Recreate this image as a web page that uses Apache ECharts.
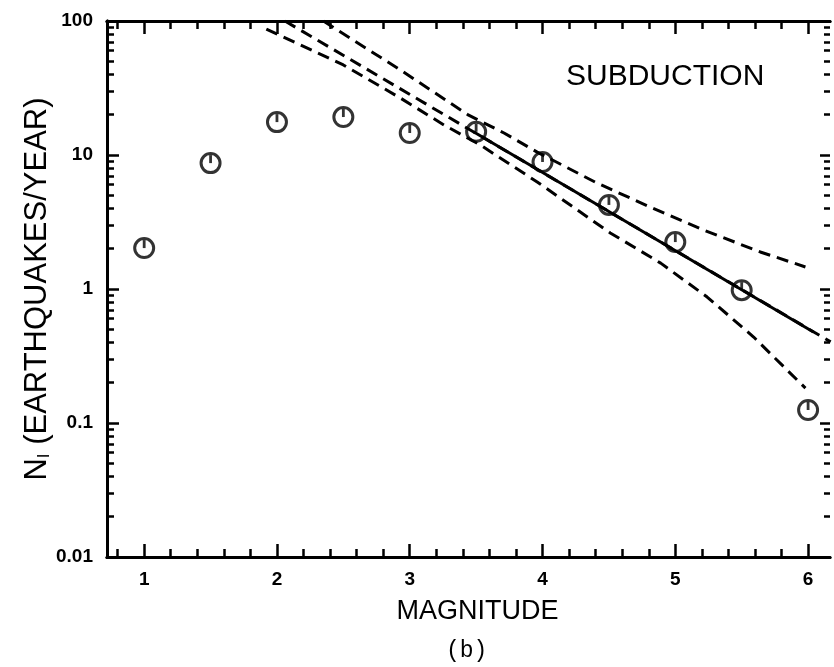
<!DOCTYPE html>
<html>
<head>
<meta charset="utf-8">
<script src="https://cdn.jsdelivr.net/npm/echarts@6/dist/echarts.min.js"></script>
<style>
html, body { margin: 0; padding: 0; background: #fff; }
#chart { width: 834px; height: 667px; }
</style>
</head>
<body>
<div id="chart"></div>
<script>
// observed rates
const magnitudes = [1, 1.5, 2, 2.5, 3, 3.5, 4, 4.5, 5, 5.5, 6];
const rates = [2.02, 8.7, 17.6, 19.2, 14.6, 14.9, 8.87, 4.24, 2.24, 0.98, 0.125];

// fit (solid) and its dashed extension
const fitLine = [[3.48, 14.9], [6.04, 0.478]];
const fitExtended = [[2.06, 100], [6.17, 0.403]];

// confidence bands (dashed)
const upperBandM = [2.35, 2.43, 2.93, 3.44, 3.71, 3.96, 4.41, 4.81, 5.21, 5.64, 5.98];
const upperBandN = [100, 88.7, 43.1, 19.9, 14.6, 10.5, 6.18, 4.09, 2.76, 1.89, 1.46];
const lowerBandM = [1.92, 2.50, 2.93, 3.26, 3.53, 3.96, 4.51, 4.89, 5.24, 5.59, 5.98];
const lowerBandN = [87, 47.0, 26.6, 16.7, 11.9, 6.29, 2.62, 1.56, 0.871, 0.438, 0.182];

// axis ticks
const xMajorTicks = [1, 2, 3, 4, 5, 6];
const xMinorTicks = [0.8, 1.2, 1.4, 1.6, 1.8, 2.2, 2.4, 2.6, 2.8, 3.2, 3.4, 3.6, 3.8,
                     4.2, 4.4, 4.6, 4.8, 5.2, 5.4, 5.6, 5.8, 6.2];
const yMajorTicks = [0.01, 0.1, 1, 10, 100];
const yTickLabels = ['0.01', '0.1', '1', '10', '100'];
const yMinorTicks = [];
[0.01, 0.1, 1, 10].forEach(d => {
    for (let k = 2; k <= 9; k++) yMinorTicks.push(+(d * k).toPrecision(3));
});

const X_MIN = 0.72, X_MAX = 6.165;
const black = '#000';
const font = '"Liberation Sans", Arial, sans-serif';

function pairs(ms, ns) {
    return ms.map((m, i) => [m, ns[i]]);
}

function xAxis(position, ticks, len, extra) {
    return Object.assign({
        type: 'value', position: position, min: X_MIN, max: X_MAX,
        axisLine: { show: true, onZero: false, lineStyle: { color: black, width: 3 } },
        axisTick: { show: true, inside: true, length: len, customValues: ticks,
            lineStyle: { color: black, width: 2.5 } },
        axisLabel: { show: false },
        splitLine: { show: false }
    }, extra || {});
}

function yAxis(position, ticks, len, extra) {
    return Object.assign({
        type: 'log', logBase: 10, position: position, min: 0.01, max: 100,
        axisLine: { show: position === 'left', onZero: false, lineStyle: { color: black, width: 3 } },
        axisTick: { show: true, inside: true, length: len, customValues: ticks,
            lineStyle: { color: black, width: 2.5 } },
        axisLabel: { show: false },
        splitLine: { show: false }
    }, extra || {});
}

const chart = echarts.init(document.getElementById('chart'));

const dashed = { color: black, width: 3, type: [12, 7] };

chart.setOption({
    animation: false,
    backgroundColor: '#fff',
    grid: { left: 107, right: 4, top: 21, bottom: 110 },
    title: [
        {
            text: 'SUBDUCTION', left: 566, top: 62, padding: 0,
            textStyle: { fontFamily: font, fontSize: 30, fontWeight: 'normal', color: black }
        },
        {
            text: '(b)', left: 446, top: 639, padding: 0,
            textStyle: { fontFamily: '"Liberation Mono", "DejaVu Sans Mono", monospace',
                fontSize: 23, fontWeight: 'normal', color: black }
        }
    ],
    xAxis: [
        xAxis('bottom', xMajorTicks, 13, {
            axisLabel: {
                show: true, customValues: xMajorTicks, margin: 13, color: black,
                fontFamily: font, fontSize: 19, fontWeight: 'bold'
            },
            name: 'MAGNITUDE', nameLocation: 'middle', nameGap: 41,
            nameTextStyle: { fontFamily: font, fontSize: 27, color: black, padding: [0, 0, 0, 18] }
        }),
        xAxis('bottom', xMinorTicks, 8),
        xAxis('top', xMajorTicks, 13),
        xAxis('top', xMinorTicks, 8)
    ],
    yAxis: [
        yAxis('left', yMajorTicks, 12, {
            axisLabel: {
                show: true, customValues: yMajorTicks, margin: 14, color: black,
                fontFamily: font, fontSize: 19, fontWeight: 'bold',
                formatter: v => yTickLabels[yMajorTicks.findIndex(t => Math.abs(Math.log10(t) - Math.log10(v)) < 1e-6)]
            },
            name: 'N{sub|I} (EARTHQUAKES/YEAR)', nameLocation: 'middle', nameGap: 54,
            nameMoveOverlap: false,
            nameTextStyle: {
                fontFamily: font, fontSize: 31, color: black,
                rich: { sub: { fontFamily: font, fontSize: 17, color: black, verticalAlign: 'bottom', padding: [14, 0, 0, 0] } }
            }
        }),
        yAxis('left', yMinorTicks, 7),
        yAxis('right', yMajorTicks, 10),
        yAxis('right', yMinorTicks, 6)
    ],
    series: [
        {
            type: 'line', data: pairs(upperBandM, upperBandN), showSymbol: false,
            lineStyle: dashed, z: 2
        },
        {
            type: 'line', data: pairs(lowerBandM, lowerBandN), showSymbol: false,
            lineStyle: dashed, z: 2
        },
        {
            type: 'line', data: fitExtended, showSymbol: false,
            lineStyle: dashed, z: 2
        },
        {
            type: 'line', data: fitLine, showSymbol: false,
            lineStyle: { color: black, width: 3 }, z: 3
        },
        {
            type: 'scatter', data: pairs(magnitudes, rates), symbol: 'circle', symbolSize: 19,
            itemStyle: { color: 'rgba(0,0,0,0)', borderColor: black, borderWidth: 3 }, z: 4
        },
        {
            type: 'scatter', data: pairs(magnitudes, rates), symbol: 'rect', symbolSize: [2.8, 8],
            symbolOffset: [0, -4], itemStyle: { color: black }, z: 4
        }
    ]
});
</script>
</body>
</html>
